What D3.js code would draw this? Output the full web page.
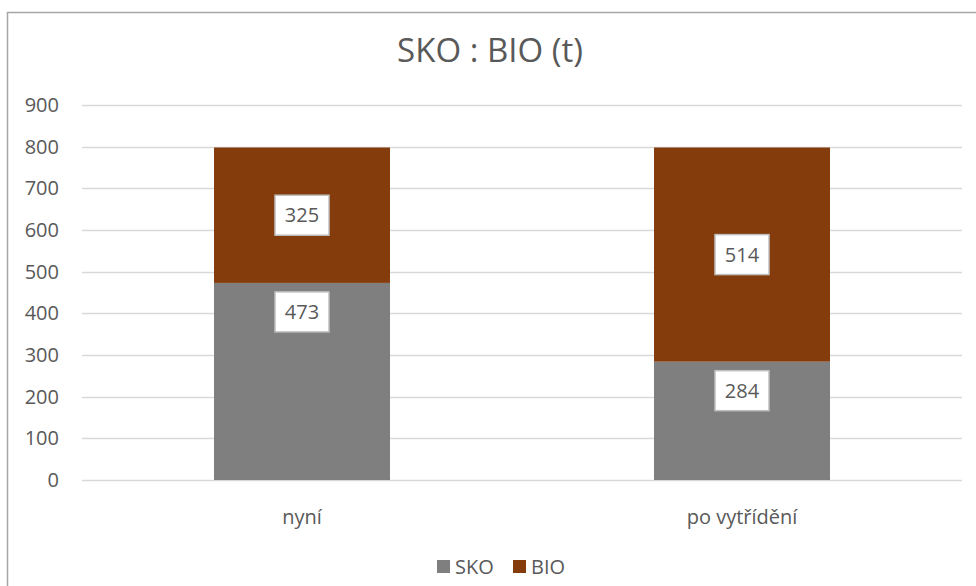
<!DOCTYPE html>
<html>
<head>
<meta charset="utf-8">
<script src="https://cdn.jsdelivr.net/npm/d3@7"></script>
<style>
  body { margin: 0; background: #fff; }
  svg text { font-family: "Open Sans", "Noto Sans", sans-serif; fill: #595959; }
</style>
</head>
<body>
<div id="chart"></div>
<script>
const categories = ["nyní", "po vytřídění"];
const seriesNames = ["SKO", "BIO"];
const skoValues = [473, 284];
const bioValues = [325, 514];
const yTicks = [0, 100, 200, 300, 400, 500, 600, 700, 800, 900];
const colors = ["#7f7f7f", "#843c0c"];

const W = 976, H = 586;
const svg = d3.select("#chart").append("svg")
    .attr("width", W)
    .attr("height", H);

// chart frame
svg.append("rect")
    .attr("x", 7.5).attr("y", 12.5)
    .attr("width", W + 20).attr("height", H + 20)
    .attr("fill", "#fff")
    .attr("stroke", "#a6a6a6")
    .attr("stroke-width", 1.5);

const x = d3.scaleBand()
    .domain(categories)
    .range([82, 962])
    .paddingInner(0.6)
    .paddingOuter(0.3);

const y = d3.scaleLinear()
    .domain([0, 900])
    .range([480, 105]);

svg.append("text")
    .attr("x", 490).attr("y", 62)
    .attr("text-anchor", "middle")
    .style("font-size", "33px")
    .text("SKO : BIO (t)");

// gridlines
svg.append("g")
    .selectAll("line")
    .data(yTicks)
    .join("line")
    .attr("x1", 82).attr("x2", 962)
    .attr("y1", d => Math.round(y(d)) + 0.5)
    .attr("y2", d => Math.round(y(d)) + 0.5)
    .attr("stroke", "#d9d9d9")
    .attr("stroke-width", 1.3);

// y axis labels
svg.append("g")
    .selectAll("text")
    .data(yTicks)
    .join("text")
    .attr("x", 59)
    .attr("y", d => y(d))
    .attr("dy", "0.35em")
    .attr("text-anchor", "end")
    .style("font-size", "20px")
    .text(d => d);

// stacked data
const rows = categories.map((c, i) => ({ cat: c, SKO: skoValues[i], BIO: bioValues[i] }));
const stacked = d3.stack().keys(seriesNames)(rows);

const layers = svg.append("g")
    .selectAll("g")
    .data(stacked)
    .join("g")
    .attr("fill", (d, i) => colors[i]);

layers.selectAll("rect")
    .data(d => d)
    .join("rect")
    .attr("x", d => x(d.data.cat))
    .attr("width", x.bandwidth())
    .attr("y", d => y(d[1]))
    .attr("height", d => y(d[0]) - y(d[1]));

// data labels: SKO at inside end, BIO centred
const labels = svg.append("g")
    .selectAll("g")
    .data(stacked.flatMap(s => s.map(d => ({ d, key: s.key }))))
    .join("g")
    .attr("transform", o => {
        const cx = x(o.d.data.cat) + x.bandwidth() / 2;
        const cy = o.key === "SKO" ? y(o.d[1]) + 29 : y((o.d[0] + o.d[1]) / 2);
        return `translate(${cx},${cy})`;
    });

labels.append("rect")
    .attr("x", -27).attr("y", -20)
    .attr("width", 54).attr("height", 40)
    .attr("fill", "#fff")
    .attr("stroke", "#bfbfbf")
    .attr("stroke-width", 1.5);

labels.append("text")
    .attr("text-anchor", "middle")
    .attr("dy", "0.35em")
    .style("font-size", "20px")
    .text(o => o.d[1] - o.d[0]);

// category labels
svg.append("g")
    .selectAll("text")
    .data(categories)
    .join("text")
    .attr("x", d => x(d) + x.bandwidth() / 2)
    .attr("y", 517)
    .attr("dy", "0.35em")
    .attr("text-anchor", "middle")
    .style("font-size", "20px")
    .text(d => d);

// legend
const legend = svg.append("g");
const legendX = [437, 513];
seriesNames.forEach((name, i) => {
    legend.append("rect")
        .attr("x", legendX[i]).attr("y", 560)
        .attr("width", 13).attr("height", 13)
        .attr("fill", colors[i]);
    legend.append("text")
        .attr("x", legendX[i] + 18).attr("y", 567)
        .attr("dy", "0.35em")
        .style("font-size", "20px")
        .text(name);
});
</script>
</body>
</html>
